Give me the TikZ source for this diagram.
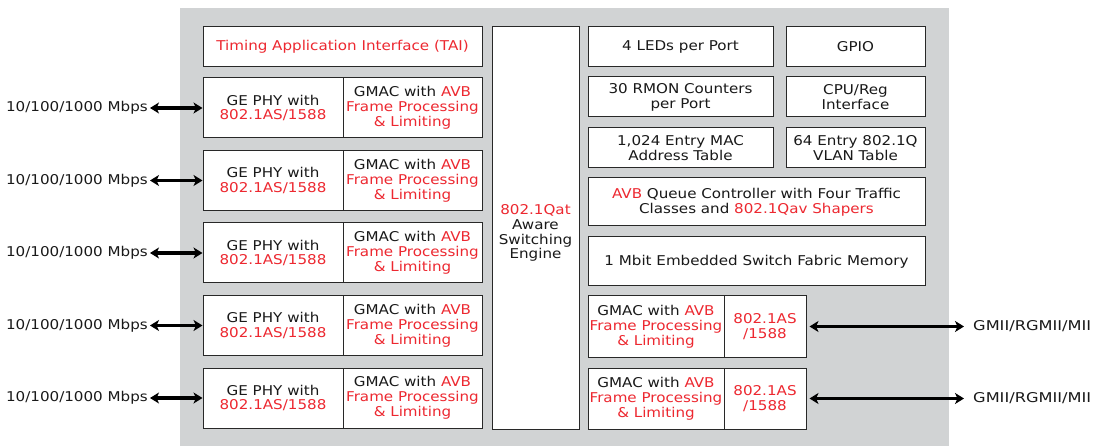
\documentclass[tikz,border=0pt]{standalone}
\usepackage{fontspec}
\setmainfont[FakeStretch=1.12]{DejaVu Sans}
\newfontfamily\widefont[FakeStretch=1.2]{DejaVu Sans}
\usetikzlibrary{arrows.meta}
\definecolor{bg}{RGB}{209,211,212}
\definecolor{avbred}{RGB}{237,40,48}
\definecolor{edge}{RGB}{40,40,40}
\newcommand{\rd}[1]{\textcolor{avbred}{#1}}
\begin{document}
\begin{tikzpicture}[x=1pt,y=-1pt,
  blk/.style={draw=edge,line width=1pt,fill=white,inner sep=0pt,align=center,
    font=\fontsize{13.5}{14.8}\selectfont,text=black!90},
  lbl/.style={inner sep=0pt,font=\fontsize{13.5}{14.8}\selectfont,text=black!90},
  bus/.style={line width=3.6pt,{Stealth[length=9pt,width=11pt,inset=2.5pt]}-{Stealth[length=9pt,width=11pt,inset=2.5pt]}}]
\useasboundingbox (0,0) rectangle (1103,446);
\fill[bg] (180,8) rectangle (949,446);
% TAI
\node[blk,minimum width=279,minimum height=40] (tai) at (342.5,47) {\rd{Timing Application Interface (TAI)}};
% middle
\node[blk,minimum width=87,minimum height=402] (sw) at (535.5,228) {};
\node[lbl,align=center] (swt) at ([yshift=-5pt]sw.center) {\rd{802.1Qat}\\Aware\\Switching\\Engine};
% PHY rows
\foreach \i/\t in {1/78,2/150.5,3/223,4/295.5,5/368}{
  \node[blk,minimum width=140,minimum height=60] (phy\i) at (273,\t+30) {GE PHY with\\\rd{802.1AS/1588}};
  \node[blk,minimum width=139,minimum height=60] (gm\i) at (412.5,\t+30) {GMAC with \rd{AVB}\\\rd{Frame Processing}\\\rd{\& Limiting}};
  \coordinate (l\i) at (150,\t+30);
  \node[lbl,anchor=east] (sp\i) at (148,\t+30) {10/100/1000 Mbps};
  \draw[bus] (l\i) -- (phy\i.west);
}
% right column
\node[blk,minimum width=185,minimum height=40] (led) at (680.5,47) {4 LEDs per Port};
\node[blk,minimum width=139,minimum height=40] (gpio) at (855.5,47) {GPIO};
\node[blk,minimum width=185,minimum height=40] (rmon) at (680.5,97) {30 RMON Counters\\per Port};
\node[blk,minimum width=139,minimum height=40] (cpu) at (855.5,97) {CPU/Reg\\Interface};
\node[blk,minimum width=185,minimum height=40] (mac) at (680.5,148) {1,024 Entry MAC\\Address Table};
\node[blk,minimum width=139,minimum height=40] (vlan) at (855.5,148) {64 Entry 802.1Q\\VLAN Table};
\node[blk,minimum width=337,minimum height=48] (q) at (756.5,202) {\rd{AVB} Queue Controller with Four Traffic\\Classes and \rd{802.1Qav Shapers}};
\node[blk,minimum width=337,minimum height=49] (mem) at (756.5,261.5) {1 Mbit Embedded Switch Fabric Memory};
\foreach \i/\c in {1/326.5,2/398.5}{
  \node[blk,minimum width=136,minimum height=61] (rg\i) at (656,\c) {GMAC with \rd{AVB}\\\rd{Frame Processing}\\\rd{\& Limiting}};
  \node[blk,minimum width=82,minimum height=61] (ras\i) at (765,\c) {\rd{802.1AS}\\\rd{/1588}};
  \coordinate (r\i) at (964,\c);
  \node[lbl,anchor=west,font=\widefont\fontsize{13.5}{14.8}\selectfont] (gmii\i) at (973,\c) {GMII/RGMII/MII};
  \draw[bus,shorten <=3pt] (ras\i.east) -- (r\i);
}
\end{tikzpicture}
\end{document}
